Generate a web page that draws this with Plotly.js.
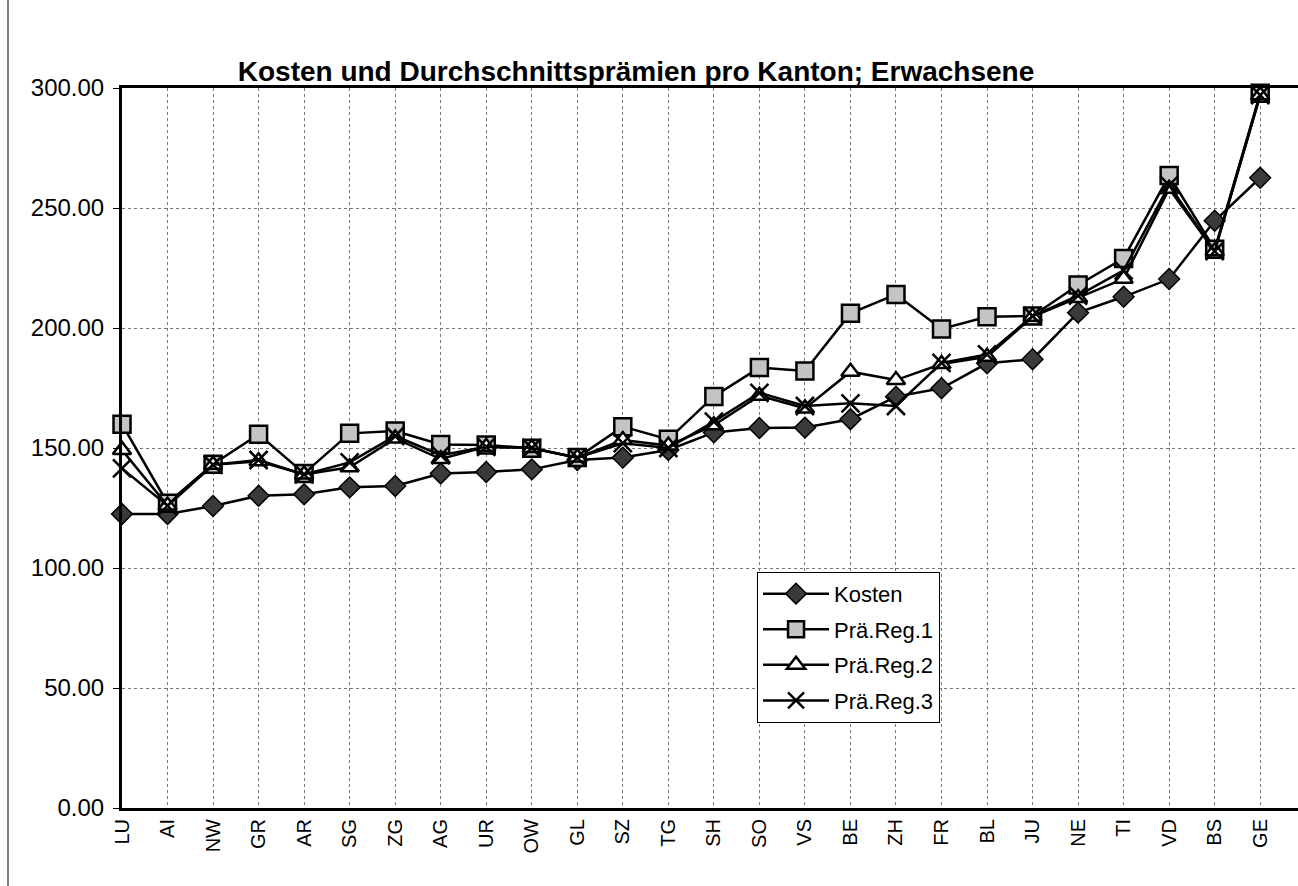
<!DOCTYPE html>
<html>
<head>
<meta charset="utf-8">
<script src="https://cdn.plot.ly/plotly-3.0.1.min.js"></script>
<style>html,body{margin:0;padding:0;background:#fff;}#chart{width:1298px;height:886px;}</style>
</head>
<body>
<div id="chart"></div>
<script>
const kantone = ["LU","AI","NW","GR","AR","SG","ZG","AG","UR","OW","GL","SZ","TG","SH","SO","VS","BE","ZH","FR","BL","JU","NE","TI","VD","BS","GE"];
const kosten  = [122.5,122.5,125.8,130.1,130.7,133.6,134.2,139.4,140.0,141.1,145.0,146.0,149.2,156.5,158.3,158.5,162.0,171.4,174.9,185.3,187.0,206.4,213.0,220.4,244.7,262.6];
const praeReg1 = [159.9,127.0,143.2,155.7,139.4,156.1,157.1,151.5,151.3,149.9,146.0,158.9,153.6,171.5,183.5,182.1,206.1,214.0,199.6,204.7,205.0,217.9,229.0,263.5,232.8,297.8];
const praeReg2 = [149.2,126.0,143.0,144.5,139.0,142.0,154.0,145.4,150.5,150.0,146.0,153.3,151.0,159.5,171.8,166.5,181.8,178.3,185.0,188.0,204.7,212.5,220.5,258.0,232.0,297.0];
const praeReg3 = [141.5,126.0,143.0,145.0,139.0,144.0,155.0,147.0,150.5,150.0,146.0,152.0,150.0,161.0,173.0,167.5,168.6,167.5,185.5,189.0,205.0,213.5,224.0,259.5,232.0,297.0];

const font = "Liberation Sans, Arial, sans-serif";
const line = {color:"#000", width:2.5};
const xIdx = kantone.map((_, i) => i);

const traces = [
  {name:"Kosten", y:kosten, marker:{symbol:"diamond", size:16, color:"#3a3a3a", line:{color:"#000", width:1.5}}},
  {name:"Prä.Reg.1", y:praeReg1, marker:{symbol:"square", size:17, color:"#c4c4c4", line:{color:"#000", width:2.5}}},
  {name:"Prä.Reg.2", y:praeReg2, marker:{symbol:"triangle-up", size:16, color:"#fff", line:{color:"#000", width:2.5}}},
  {name:"Prä.Reg.3", y:praeReg3, marker:{symbol:"x-thin", size:18, color:"#000", line:{color:"#000", width:2.5}}}
].map((t, i) => Object.assign({type:"scatter", mode:"lines+markers", x:xIdx, line:line, legendgroup:"g"+i, cliponaxis:false}, t));

const layout = {
  width:1298, height:886,
  paper_bgcolor:"#fff", plot_bgcolor:"#fff",
  margin:{l:122, r:0, t:88, b:78},
  font:{family:font, color:"#000", size:20},
  title:{text:"<b>Kosten und Durchschnittsprämien pro Kanton; Erwachsene</b>", font:{family:font, size:28, color:"#000"}, x:0.49, xanchor:"center", y:0.92, yanchor:"middle", xref:"container", yref:"container"},
  xaxis:{
    range:[0, 25.83], tickmode:"array", tickvals:xIdx, ticktext:kantone, tickangle:-90,
    showgrid:true, gridcolor:"#777", griddash:"dot", gridwidth:1,
    showline:true, linecolor:"#000", linewidth:3, mirror:true,
    ticks:"", tickfont:{size:20, family:font}, zeroline:false, fixedrange:true
  },
  yaxis:{
    range:[0,300], tickvals:[0,50,100,150,200,250,300], tickformat:".2f",
    showgrid:true, gridcolor:"#777", griddash:"dot", gridwidth:1,
    showline:true, linecolor:"#000", linewidth:3,
    ticks:"outside", ticklen:6, tickcolor:"#000", tickwidth:1,
    ticklabelstandoff:4,
    tickfont:{size:24, family:font}, zeroline:false, fixedrange:true
  },
  showlegend:true,
  legend:{
    x:0.54, y:0.328, xanchor:"left", yanchor:"top",
    bgcolor:"#fff", bordercolor:"#000", borderwidth:1,
    font:{size:22, family:font}, tracegroupgap:4, traceorder:"grouped",
    itemwidth:66
  },
  shapes:[
    {type:"line", xref:"paper", yref:"paper", x0:0, x1:0, y0:0, y1:1, line:{color:"#000", width:1}}
  ]
};
layout.shapes[0].x0 = layout.shapes[0].x1 = (8 - 122) / 1176;
layout.shapes[0].y0 = -(886 - 808) / 720;
layout.shapes[0].y1 = 808 / 720;

Plotly.newPlot("chart", traces, layout, {displayModeBar:false, staticPlot:true});
</script>
</body>
</html>
